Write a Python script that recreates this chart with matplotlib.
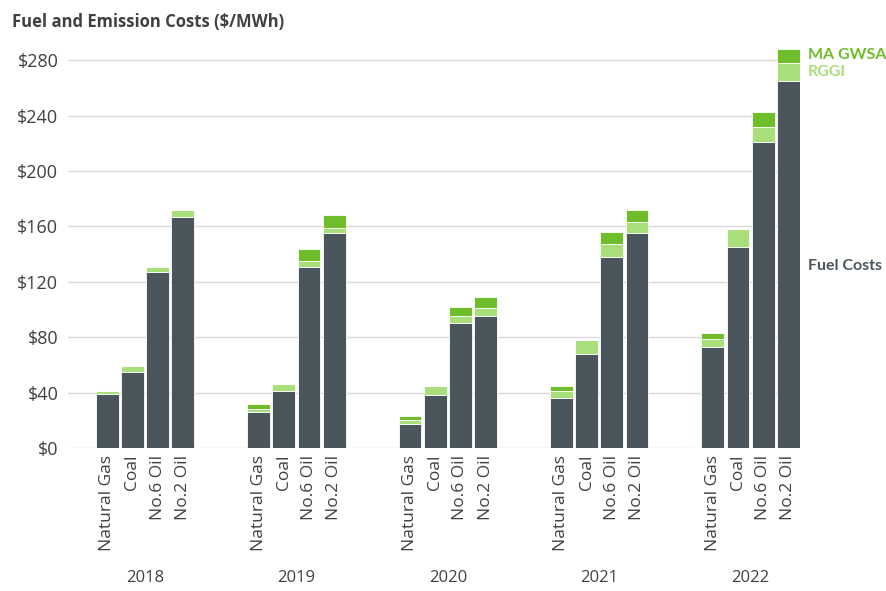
import numpy as np
import matplotlib.pyplot as plt

plt.rcParams['font.family'] = ['Open Sans', 'DejaVu Sans']

years = ["2018", "2019", "2020", "2021", "2022"]
fuels = ["Natural Gas", "Coal", "No.6 Oil", "No.2 Oil"]

# $/MWh, one row per year, columns follow `fuels`
fuel_cost = [
    [39, 55, 127, 167],
    [26, 41, 131, 155],
    [17, 38, 90, 95],
    [36, 68, 138, 155],
    [73, 145, 221, 265],
]
rggi = [
    [2, 4, 4, 5],
    [2, 5, 4, 4],
    [3, 7, 5, 6],
    [5, 10, 9, 8],
    [6, 13, 11, 13],
]
ma_gwsa = [
    [0, 0, 0, 0],
    [4, 0, 9, 9],
    [3, 0, 7, 8],
    [4, 0, 9, 9],
    [4, 0, 11, 10],
]

FUEL_COL = "#4b565c"
RGGI_COL = "#a9df7b"
GWSA_COL = "#70bd2b"
TEXT_COL = "#404040"

fuel_cost = np.array(fuel_cost)
rggi = np.array(rggi)
ma_gwsa = np.array(ma_gwsa)

fig = plt.figure(figsize=(8.87, 5.91), dpi=100)
ax = fig.add_axes([0.0767, 0.242, 0.825, 0.684])

for g in range(len(years)):
    x = g * 6 + np.arange(len(fuels))
    ax.bar(x, fuel_cost[g], width=0.9, color=FUEL_COL, edgecolor="white", linewidth=0.6, zorder=3)
    ax.bar(x, rggi[g], bottom=fuel_cost[g], width=0.9, color=RGGI_COL, edgecolor="white", linewidth=0.6, zorder=3)
    ax.bar(x, ma_gwsa[g], bottom=fuel_cost[g] + rggi[g], width=0.9, color=GWSA_COL,
           edgecolor="white", linewidth=0.6, zorder=3)
    for i, name in enumerate(fuels):
        ax.text(x[i], -5, name, rotation=90, ha="center", va="top", fontsize=12.5, color=TEXT_COL)
    ax.text(x.mean(), -94, years[g], ha="center", va="center", fontsize=12, color=TEXT_COL)

ax.set_xlim(-1.55, 27.45)
ax.set_ylim(0, 292)
ax.set_yticks(np.arange(0, 281, 40))
ax.set_yticklabels(["$%d" % v for v in np.arange(0, 281, 40)], fontsize=13, color=TEXT_COL)
ax.tick_params(axis="y", length=0, pad=7)
ax.set_xticks([])
ax.grid(axis="y", color="#d9d9d9", linewidth=1, zorder=0)
for s in ax.spines.values():
    s.set_visible(False)

fig.text(0.014, 0.963, "Fuel and Emission Costs ($/MWh)", fontsize=12, fontweight="bold",
         color=TEXT_COL, va="center")
side = dict(fontsize=11.5, fontweight="bold", va="center", family=["Lato", "DejaVu Sans"])
fig.text(0.911, 0.907, "MA GWSA", color=GWSA_COL, **side)
fig.text(0.911, 0.878, "RGGI", color=RGGI_COL, **side)
fig.text(0.911, 0.550, "Fuel Costs", color="#4b565c", **side)

fig.savefig("out.png", dpi=100)
